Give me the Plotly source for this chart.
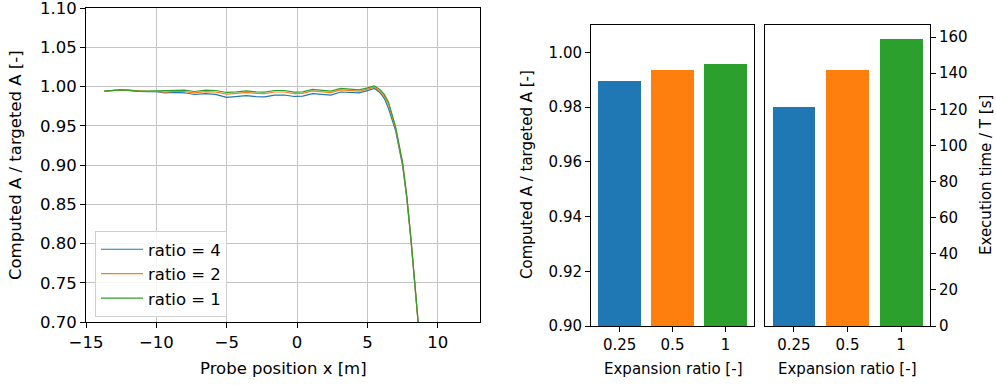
import plotly.graph_objects as go

# ---------------- data ----------------
probe_x = [-13.7, -13.0, -12.5, -12.0, -11.3, -10.6, -10.0, -9.4, -8.7, -8.0,
           -7.3, -6.5, -5.8, -5.0, -4.3, -3.6, -2.9, -2.3, -1.6, -0.9,
           -0.2, 0.4, 1.1, 1.8, 2.4, 3.1, 3.8, 4.4, 5.0, 5.5,
           5.9, 6.2, 6.5, 7.0, 7.5, 7.8, 8.1, 8.4, 8.6, 8.8]

ratio4 = [0.9941, 0.9953, 0.9957, 0.9950, 0.9936, 0.9933, 0.9933, 0.9920, 0.9925, 0.9920,
          0.9898, 0.9910, 0.9900, 0.9862, 0.9870, 0.9885, 0.9872, 0.9868, 0.9890, 0.9892,
          0.9873, 0.9878, 0.9908, 0.9900, 0.9890, 0.9930, 0.9927, 0.9918, 0.9948, 0.9975,
          0.9920, 0.9850, 0.9720, 0.9440, 0.899, 0.857, 0.803, 0.738, 0.698, 0.658]

ratio2 = [0.9941, 0.9953, 0.9958, 0.9953, 0.9941, 0.9938, 0.9938, 0.9928, 0.9938, 0.9936,
          0.9918, 0.9935, 0.9930, 0.9904, 0.9912, 0.9926, 0.9912, 0.9908, 0.9930, 0.9930,
          0.9908, 0.9912, 0.9943, 0.9934, 0.9922, 0.9957, 0.9952, 0.9940, 0.9966, 0.9992,
          0.9940, 0.9880, 0.9770, 0.9470, 0.902, 0.859, 0.804, 0.739, 0.699, 0.659]

ratio1 = [0.9941, 0.9953, 0.9958, 0.9953, 0.9941, 0.9941, 0.9945, 0.9941, 0.9953, 0.9953,
          0.9936, 0.9953, 0.9949, 0.9924, 0.9932, 0.9945, 0.9932, 0.9928, 0.9949, 0.9949,
          0.9928, 0.9932, 0.9962, 0.9953, 0.9941, 0.9975, 0.9970, 0.9958, 0.9983, 1.0008,
          0.996, 0.990, 0.980, 0.949, 0.903, 0.860, 0.805, 0.740, 0.700, 0.660]

series_names = ["ratio = 4", "ratio = 2", "ratio = 1"]

expansion_labels = ["0.25", "0.5", "1"]
accuracy = [0.9896, 0.9936, 0.9958]
exec_time = [121.4, 142.0, 159.0]

left_xticks = [-15, -10, -5, 0, 5, 10]
left_yticks = [0.70, 0.75, 0.80, 0.85, 0.90, 0.95, 1.00, 1.05, 1.10]
acc_ticks = [0.90, 0.92, 0.94, 0.96, 0.98, 1.00]
time_ticks = [0, 20, 40, 60, 80, 100, 120, 140, 160]

colors = ["#1f77b4", "#ff7f0e", "#2ca02c"]

# ---------------- figure ----------------
W, H = 996, 385
FONT = "DejaVu Sans"


def px_x(p):
    return p / W


def px_y(p):
    return 1 - p / H


fig = go.Figure()

for name, ys, c in zip(series_names, [ratio4, ratio2, ratio1], colors):
    fig.add_trace(go.Scatter(x=probe_x, y=ys, mode="lines", name=name,
                             line=dict(color=c, width=1.2),
                             xaxis="x", yaxis="y"))

fig.add_trace(go.Bar(x=[0, 1, 2], y=accuracy, marker=dict(color=colors, line=dict(width=0)),
                     width=0.8, showlegend=False, xaxis="x2", yaxis="y2"))
fig.add_trace(go.Bar(x=[0, 1, 2], y=exec_time, marker=dict(color=colors, line=dict(width=0)),
                     width=0.8, showlegend=False, xaxis="x3", yaxis="y3"))

axis_common = dict(showline=True, linecolor="black", linewidth=1, mirror=True,
                   ticks="outside", ticklen=5, tickcolor="black", tickwidth=1,
                   zeroline=False, automargin=False, ticklabeloverflow="allow")


def fmt(v, nd):
    s = f"{v:.{nd}f}"
    return s.replace("-", "\u2212")


fig.update_layout(
    width=W, height=H,
    margin=dict(l=0, r=0, t=0, b=0, autoexpand=False),
    paper_bgcolor="white", plot_bgcolor="white",
    font=dict(family=FONT, color="black", size=16),
    bargap=0,
    xaxis=dict(domain=[px_x(86), px_x(480)], range=[-15, 13], anchor="y",
               tickvals=left_xticks, ticktext=[fmt(v, 0) for v in left_xticks],
               showgrid=True, gridcolor="#c4c4c4", gridwidth=1,
               tickfont=dict(size=16.5), **axis_common),
    yaxis=dict(domain=[px_y(322), px_y(8)], range=[0.70, 1.10], anchor="x",
               tickvals=left_yticks, ticktext=[fmt(v, 2) for v in left_yticks],
               showgrid=True, gridcolor="#c4c4c4", gridwidth=1,
               tickfont=dict(size=16.5), **axis_common),
    xaxis2=dict(domain=[px_x(591), px_x(754)], range=[-0.54, 2.54], anchor="y2",
                tickvals=[0, 1, 2], ticktext=expansion_labels, showgrid=False,
                tickfont=dict(size=15), **axis_common),
    yaxis2=dict(domain=[px_y(326), px_y(25)], range=[0.90, 1.01], anchor="x2",
                tickvals=acc_ticks, ticktext=[fmt(v, 2) for v in acc_ticks],
                showgrid=False, tickfont=dict(size=15), **axis_common),
    xaxis3=dict(domain=[px_x(765), px_x(930)], range=[-0.54, 2.54], anchor="y3",
                tickvals=[0, 1, 2], ticktext=expansion_labels, showgrid=False,
                tickfont=dict(size=15), **axis_common),
    yaxis3=dict(domain=[px_y(326), px_y(25)], range=[0, 166.7], anchor="x3",
                side="right", tickvals=time_ticks, ticktext=[str(v) for v in time_ticks],
                showgrid=False, tickfont=dict(size=15), **axis_common),
    legend=dict(x=px_x(95), y=px_y(317), xanchor="left", yanchor="bottom",
                bgcolor="rgba(255,255,255,0.85)", bordercolor="#d0d0d0", borderwidth=1,
                font=dict(size=16.5), tracegroupgap=0, itemwidth=42),
    annotations=[
        dict(text="Probe position x [m]", x=px_x(283), y=px_y(368), xref="paper", yref="paper",
             showarrow=False, font=dict(size=16.5), xanchor="center", yanchor="middle"),
        dict(text="Computed A / targeted A [-]", x=px_x(15), y=px_y(165), xref="paper", yref="paper",
             showarrow=False, font=dict(size=16.5), textangle=-90, xanchor="center", yanchor="middle"),
        dict(text="Expansion ratio [-]", x=px_x(673), y=px_y(369), xref="paper", yref="paper",
             showarrow=False, font=dict(size=15), xanchor="center", yanchor="middle"),
        dict(text="Expansion ratio [-]", x=px_x(847), y=px_y(369), xref="paper", yref="paper",
             showarrow=False, font=dict(size=15), xanchor="center", yanchor="middle"),
        dict(text="Computed A / targeted A [-]", x=px_x(527), y=px_y(175), xref="paper", yref="paper",
             showarrow=False, font=dict(size=15), textangle=-90, xanchor="center", yanchor="middle"),
        dict(text="Execution time / T [s]", x=px_x(986), y=px_y(175), xref="paper", yref="paper",
             showarrow=False, font=dict(size=15), textangle=-90, xanchor="center", yanchor="middle"),
    ],
)

fig.write_html("out.html")
